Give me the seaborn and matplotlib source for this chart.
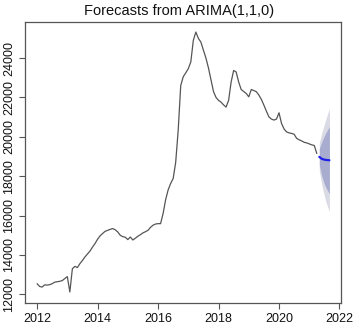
import numpy as np
import pandas as pd
import matplotlib
matplotlib.use('Agg')
import matplotlib.pyplot as plt
import seaborn as sns

# ---------------------------------------------------------
# data (monthly, Jan 2012 - Apr 2021)
# ---------------------------------------------------------
START_YEAR = 2012
observed = [
    12540, 12400, 12370, 12480, 12470, 12490, 12540, 12620, 12640, 12660, 12700, 12800,  # 2012
    12900, 12120, 13300, 13420, 13360, 13560, 13720, 13900, 14050, 14200, 14400, 14580,  # 2013
    14800, 14970, 15090, 15200, 15250, 15300, 15340, 15280, 15170, 15000, 14930, 14900,  # 2014
    14780, 14910, 14760, 14850, 14950, 15030, 15120, 15180, 15250, 15400, 15510, 15570,  # 2015
    15590, 15590, 16100, 16800, 17300, 17630, 17880, 18700, 20340, 22600, 23050, 23250,  # 2016
    23460, 23800, 24900, 25320, 25000, 24810, 24400, 24000, 23500, 22900, 22300, 22000,  # 2017
    21850, 21760, 21620, 21510, 21850, 22780, 23370, 23290, 22780, 22400, 22300, 22200,  # 2018
    22030, 22400, 22350, 22290, 22120, 21900, 21610, 21300, 21010, 20900, 20850, 20900,  # 2019
    21220, 20680, 20400, 20250, 20200, 20170, 20130, 19920, 19850, 19790, 19720, 19690,  # 2020
    19640, 19590, 19560, 19150,                                                          # 2021
]

# forecast May - Sep 2021
fc_mean = [18980, 18880, 18840, 18820, 18810]
lo80 = [18550, 18000, 17600, 17330, 17110]
hi80 = [19400, 19750, 20050, 20300, 20520]
lo95 = [18260, 17550, 17000, 16550, 16200]
hi95 = [19700, 20200, 20650, 21050, 21440]

x_ticks = [2012, 2014, 2016, 2018, 2020, 2022]
y_ticks = [12000, 14000, 16000, 18000, 20000, 22000, 24000]
TITLE = 'Forecasts from ARIMA(1,1,0)'

# ---------------------------------------------------------
# frames
# ---------------------------------------------------------
n_obs = len(observed)
obs_df = pd.DataFrame({'time': START_YEAR + np.arange(n_obs) / 12, 'value': observed})
fc_df = pd.DataFrame({
    'time': START_YEAR + np.arange(n_obs, n_obs + len(fc_mean)) / 12,
    'mean': fc_mean, 'lo80': lo80, 'hi80': hi80, 'lo95': lo95, 'hi95': hi95,
})

# ---------------------------------------------------------
# plot
# ---------------------------------------------------------
sns.set_style('white')
plt.rcParams['font.family'] = ['Liberation Sans', 'DejaVu Sans']

fig = plt.figure(figsize=(3.58, 3.27), dpi=100)
ax = fig.add_axes([0.0698, 0.0734, 0.8827, 0.8593])

ax.fill_between(fc_df['time'], fc_df['lo95'], fc_df['hi95'], color='#d9dae4', lw=0)
ax.fill_between(fc_df['time'], fc_df['lo80'], fc_df['hi80'], color='#a8add0', lw=0)
sns.lineplot(data=obs_df, x='time', y='value', ax=ax, color='#555555', lw=0.9)
sns.lineplot(data=fc_df, x='time', y='mean', ax=ax, color='#1f1fe6', lw=1.6)

ax.set_xlim(2011.6, 2022.05)
ax.set_ylim(11560, 25830)
ax.set_xticks(x_ticks)
ax.set_yticks(y_ticks)
ax.set_xlabel('')
ax.set_ylabel('')

for s in ax.spines.values():
    s.set_color('#555555')
    s.set_linewidth(0.9)

ax.tick_params(axis='both', direction='out', length=4, width=0.8, color='#555555',
               labelsize=9, labelcolor='#111111', pad=3, left=True, bottom=True)
for lab in ax.get_yticklabels():
    lab.set_rotation(90)
    lab.set_va('center')

fig.text(0.5, 0.965, TITLE, ha='center', va='center', fontsize=10.5, color='#111111')

fig.savefig('out.png', dpi=100)
